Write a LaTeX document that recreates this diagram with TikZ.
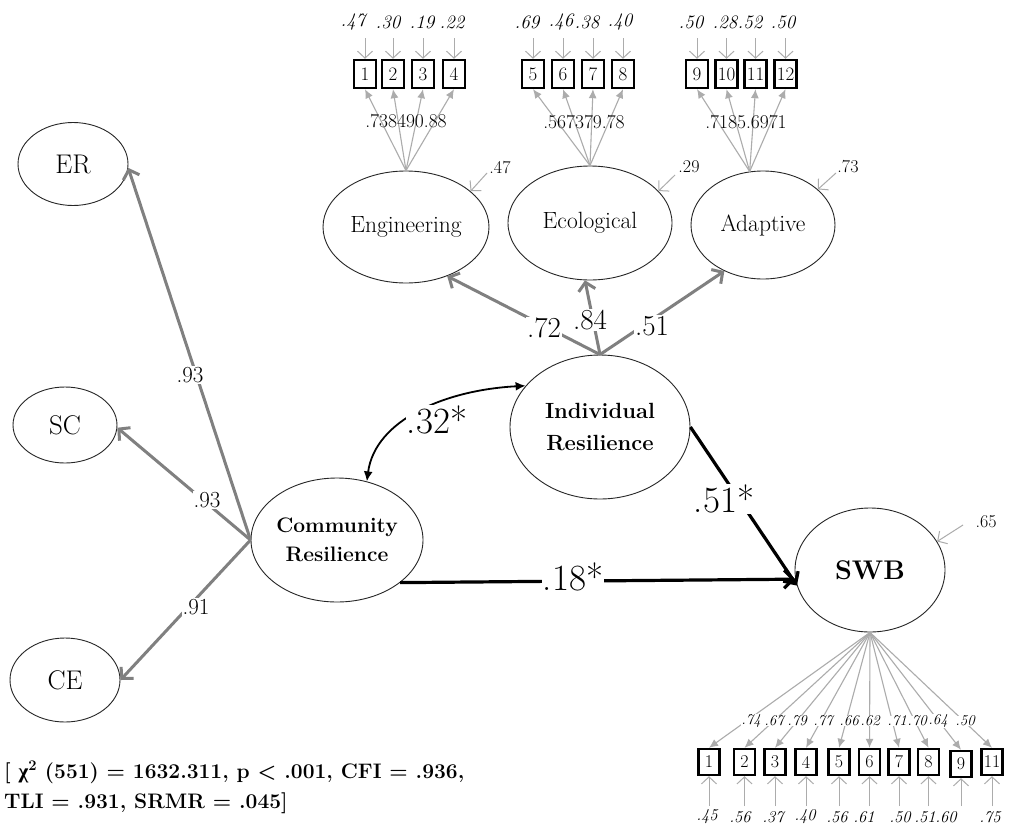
\documentclass[tikz,border=0pt]{standalone}
\usepackage{fontspec}
\newfontfamily\greekfont{Liberation Serif}
\usetikzlibrary{arrows.meta,shapes.geometric}
\definecolor{pathgrey}{RGB}{128,128,128}
\definecolor{itemgrey}{RGB}{172,172,172}
\newcommand{\setfs}[2]{\fontsize{#1}{#2}\selectfont}
\tikzset{
  latent/.style={ellipse, draw=black!85, line width=0.9pt, inner sep=0pt, align=center},
  item/.style={rectangle, draw=black, line width=2.4pt, inner sep=0pt,
    minimum width=22pt, minimum height=28pt, font=\setfs{19}{19}},
  sitem/.style={item, minimum width=21pt, minimum height=26pt, font=\setfs{18}{18}},
  factorarrow/.style={draw=pathgrey, line width=3pt, -{Straight Barb[length=8pt,width=17pt]}},
  structarrow/.style={draw=black, line width=3.2pt, -{Straight Barb[length=9pt,width=18pt]}},
  covarrow/.style={draw=black, line width=1.8pt, {Latex[length=10pt,width=9pt]}-{Latex[length=10pt,width=9pt]}},
  loadarrow/.style={draw=itemgrey, line width=1.1pt, -{Latex[length=9pt,width=8pt]}},
  errarrow/.style={draw=itemgrey, line width=1pt, -{Straight Barb[length=7pt,width=15pt]}},
  coef/.style={fill=white, inner sep=1pt},
}
\begin{document}
\begin{tikzpicture}[x=1pt,y=-1pt]
\useasboundingbox (0,0) rectangle (1009,827);
\fill[white] (0,0) rectangle (1009,827);

% latent variables
\node[latent, minimum width=110pt, minimum height=83pt, font=\setfs{27}{27}] (er) at (73,164) {ER};
\node[latent, minimum width=104pt, minimum height=76pt, font=\setfs{27}{27}] (sc) at (65,425) {SC};
\node[latent, minimum width=110pt, minimum height=84pt, font=\setfs{27}{27}] (ce) at (65,680) {CE};
\node[latent, minimum width=172pt, minimum height=124pt, font=\setfs{21}{29}\bfseries] (cr) at (337,540) {Community\\Resilience};
\node[latent, minimum width=180pt, minimum height=144pt, font=\setfs{22}{32}\bfseries] (ir) at (600,427) {Individual\\Resilience};
\node[latent, minimum width=166pt, minimum height=112pt, font=\setfs{23.5}{24}] (eng) at (406,227) {Engineering};
\node[latent, minimum width=164pt, minimum height=114pt, font=\setfs{23.5}{24}] (eco) at (590,223) {Ecological};
\node[latent, minimum width=144pt, minimum height=108pt, font=\setfs{23.5}{24}] (ada) at (763,225) {Adaptive};
\node[latent, minimum width=150pt, minimum height=124pt, font=\setfs{27}{27}\bfseries] (swb) at (870,570) {SWB};

% second-order loadings
\draw[factorarrow] (cr.west) -- (er.-4);
\draw[factorarrow] (cr.west) -- (sc.-3);
\draw[factorarrow] (cr.west) -- (ce.east);
\draw[factorarrow] (ir.north) -- (eng.-50);
\draw[factorarrow] (ir.north) -- (eco.265);
\draw[factorarrow] (ir.north) -- (ada.230);

% structural paths
\draw[structarrow] (ir.east) -- (swb.192);
\draw[structarrow] (cr.-34) -- (swb.187);
\draw[covarrow] (cr.63) .. controls (375,420) and (445,390) .. (ir.151);

% residuals of the latent variables
\coordinate (eEng) at (487,173);
\coordinate (eEco) at (675,175);
\coordinate (eAda) at (836,173);
\coordinate (eSwb) at (963,525);
\draw[errarrow] (eEng) -- (eng.29);
\draw[errarrow] (eEco) -- (eco.25);
\draw[errarrow] (eAda) -- (ada.33);
\draw[errarrow] (eSwb) -- (swb.23);
\node[font=\setfs{18}{18}] (lEng) at (500,168) {.47};
\node[font=\setfs{18}{18}] (lEco) at (689,167) {.29};
\node[font=\setfs{18}{18}] (lAda) at (848,167) {.73};
\node[font=\setfs{18}{18}] (lSwb) at (986,522) {.65};

% indicators of the individual resilience facets
\foreach \n/\bx/\lx/\rv/\src in {1/365/353/.47/eng.north, 2/393/388/.30/eng.north, 3/423/422/.19/eng.north, 4/454/452/.22/eng.north,
  5/533/527/.69/eco.north, 6/563/561/.46/eco.north, 7/593/587/.38/eco.north, 8/623/620/.40/eco.north,
  9/697/691/.50/ada.104, 10/726.5/725/.28/ada.104, 11/755.5/750/.52/ada.104, 12/785.5/783/.50/ada.104}{
  \node[item] (t\n) at (\bx,74) {\n};
  \coordinate (te\n) at (\bx,38);
  \draw[errarrow] (te\n) -- (t\n.north);
  \draw[loadarrow] (\src) -- (t\n.south);
  \node[font=\setfs{19}{19}\itshape] (tr\n) at (\lx,22) {\rv};
}
\node[font=\setfs{19.5}{19.5}] (lde) at (406,121) {.738490.88};
\node[font=\setfs{19.5}{19.5}] (ldc) at (584,122) {.567379.78};
\node[font=\setfs{19.5}{19.5}] (lda) at (746,122) {.7185.6971};

% indicators of subjective well-being
\foreach \n/\bx/\by/\rx/\rv in {1/709/762/707/.45, 2/744.5/762/740/.56, 3/775/762/773/.37, 4/806/762/805/.40,
  5/839/762/837/.56, 6/869.5/762/864/.61, 7/899/762/900/.50, 8/928.5/762/925/.51, 9/961/764/946/.60, 11/992/762/990/.75}{
  \node[sitem] (s\n) at (\bx,\by) {\n};
  \coordinate (se\n) at (\bx,806);
  \draw[errarrow] (se\n) -- (s\n.south);
  \draw[loadarrow] (swb.south) -- (s\n.north);
  \node[font=\setfs{16.5}{16.5}\itshape] (sr\n) at (\rx,817) {\rv};
}
\foreach \n/\lx/\lv in {1/751/.74, 2/774/.67, 3/797/.79, 4/823/.77, 5/849/.66, 6/870/.62, 7/897/.71, 8/917/.70, 9/938/.64, 11/965/.50}{
  \node[coef, inner sep=0.3pt, font=\setfs{15}{15}\itshape] (sl\n) at (\lx,721) {\lv};
}

% coefficients
\node[coef, font=\setfs{23}{23}] (cER) at (190,375) {.93};
\node[coef, font=\setfs{23}{23}] (cSC) at (207,500) {.93};
\node[coef, font=\setfs{23}{23}] (cCE) at (196,607) {.91};
\node[coef, font=\setfs{29}{29}] (cEng) at (544,328) {.72};
\node[coef, font=\setfs{29}{29}] (cEco) at (590,320) {.84};
\node[coef, font=\setfs{29}{29}] (cAda) at (652,326) {.51};
\node[coef, font=\setfs{37}{37}] (cCov) at (437,420) {.32*};
\node[coef, font=\setfs{37}{37}] (cIS) at (724,499) {.51*};
\node[coef, font=\setfs{37}{37}] (cCS) at (573,577) {.18*};

% fit indices
\node[anchor=base west, font=\setfs{21}{21}\bfseries, inner sep=0pt] (fit1) at (4,778)
  {[ {\greekfont\bfseries χ}\textsuperscript{2} (551) = 1632.311, p < .001, CFI = .936,};
\node[anchor=base west, font=\setfs{21}{21}\bfseries, inner sep=0pt] (fit2) at (4,808)
  {TLI = .931, SRMR = .045]};
\end{tikzpicture}
\end{document}
